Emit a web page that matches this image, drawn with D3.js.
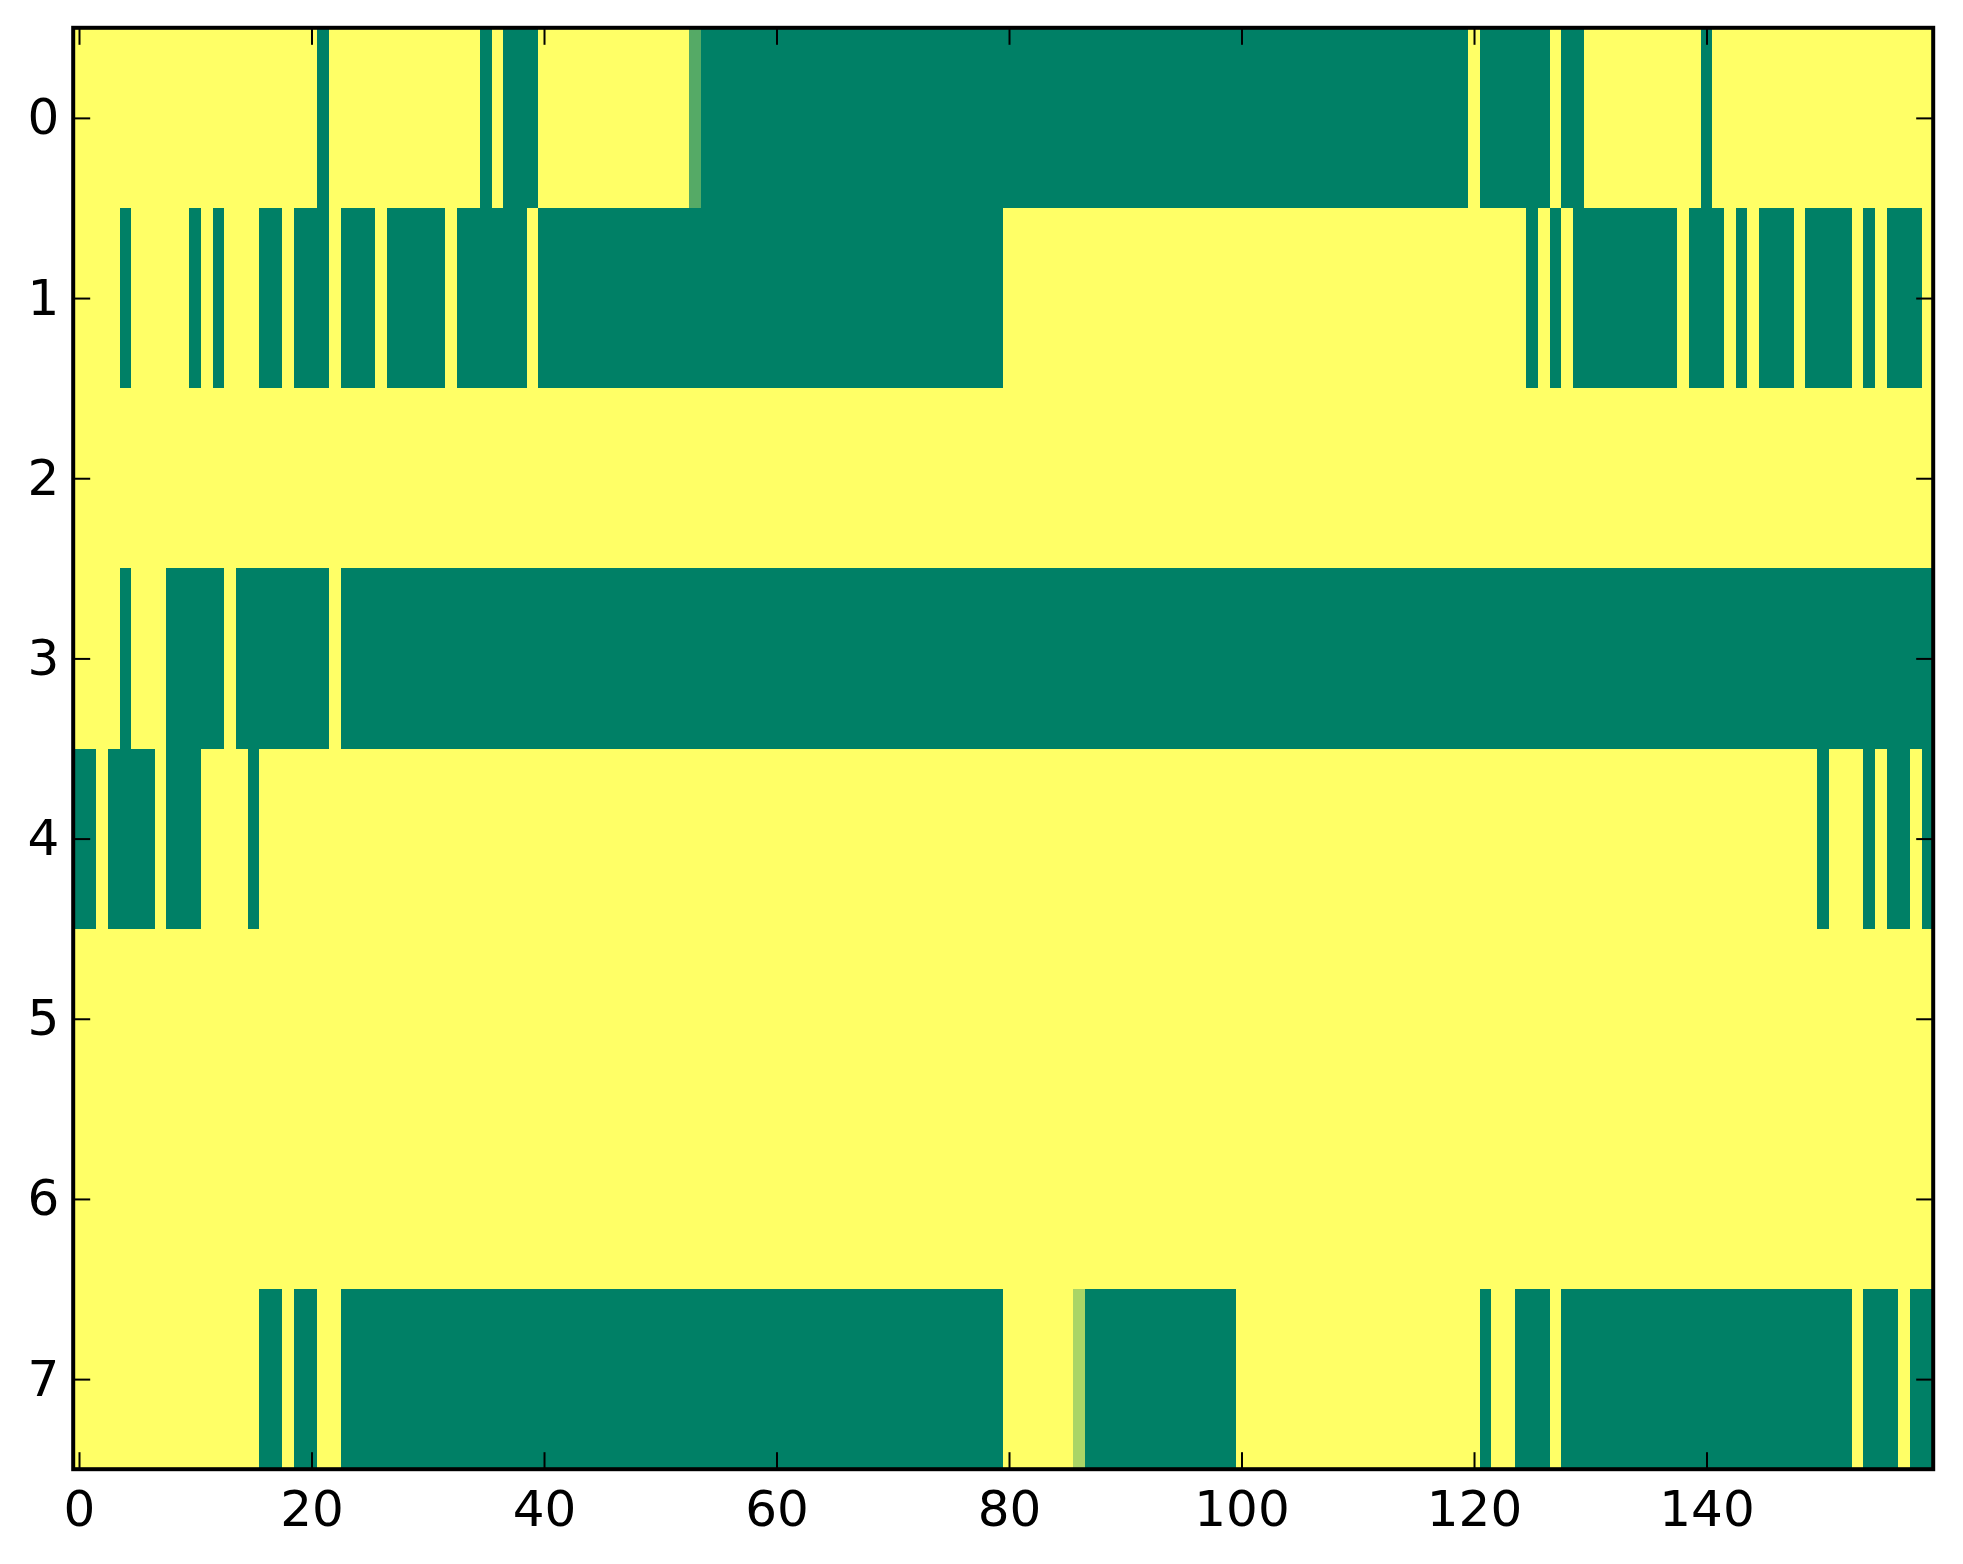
<!DOCTYPE html>
<html>
<head>
<meta charset="utf-8">
<script src="https://cdn.jsdelivr.net/npm/d3@7"></script>
<style>
  html, body { margin: 0; padding: 0; background: #ffffff; }
  svg { display: block; }
  .tick text { font-family: "DejaVu Sans", sans-serif; font-size: 50px; fill: #000; }
</style>
</head>
<body>
<svg id="chart" width="1963" height="1564"></svg>
<script>
// Cell values per row: each digit d is a cell value d/9 (0 = dark green, 9 = yellow), 160 cells per row
const row0 = "9999999999 9999999999 9099999999 9999909000 9999999999 9993000000 0000000000 0000000000 0000000000 0000000000 0000000000 0000000000 9000000900 9999999999 0999999999 9999999999";
const row1 = "9999099999 0909990090 0090009000 0090000009 0000000000 0000000000 0000000000 0000000000 9999999999 9999999999 9999999999 9999999999 9999909090 0000000090 0090900090 0009090009";
const row2 = "9999999999 9999999999 9999999999 9999999999 9999999999 9999999999 9999999999 9999999999 9999999999 9999999999 9999999999 9999999999 9999999999 9999999999 9999999999 9999999999";
const row3 = "9999099900 0009000000 0090000000 0000000000 0000000000 0000000000 0000000000 0000000000 0000000000 0000000000 0000000000 0000000000 0000000000 0000000000 0000000000 0000000000";
const row4 = "0090000900 0999909999 9999999999 9999999999 9999999999 9999999999 9999999999 9999999999 9999999999 9999999999 9999999999 9999999999 9999999999 9999999999 9999999999 0999090090";
const row5 = "9999999999 9999999999 9999999999 9999999999 9999999999 9999999999 9999999999 9999999999 9999999999 9999999999 9999999999 9999999999 9999999999 9999999999 9999999999 9999999999";
const row6 = "9999999999 9999999999 9999999999 9999999999 9999999999 9999999999 9999999999 9999999999 9999999999 9999999999 9999999999 9999999999 9999999999 9999999999 9999999999 9999999999";
const row7 = "9999999999 9999990090 0990000000 0000000000 0000000000 0000000000 0000000000 0000000000 9999996000 0000000000 9999999999 9999999999 9099000900 0000000000 0000000000 0009000900";

const rowStrings = [row0, row1, row2, row3, row4, row5, row6, row7];
const xTickValues = [0, 20, 40, 60, 80, 100, 120, 140];
const yTickValues = [0, 1, 2, 3, 4, 5, 6, 7];

(function () {
  // parse into numeric grid
  const grid = rowStrings.map(s => s.replace(/\s+/g, "").split("").map(c => +c / 9));
  const cells = [];
  grid.forEach((row, r) => row.forEach((v, c) => cells.push({ r, c, v })));

  const nCols = grid[0].length;
  const nRows = grid.length;

  const pLeft = 73.2, pRight = 1933.2, pTop = 27.8, pBottom = 1469.2;

  const x = d3.scaleLinear().domain([-0.5, nCols - 0.5]).range([pLeft, pRight]);
  const y = d3.scaleLinear().domain([-0.5, nRows - 0.5]).range([pTop, pBottom]);
  // matplotlib "summer" colormap
  const color = d3.scaleLinear().domain([0, 1]).range(["#008066", "#ffff66"]).interpolate(d3.interpolateRgb);

  const svg = d3.select("#chart");

  svg.append("g")
    .attr("shape-rendering", "crispEdges")
    .selectAll("rect")
    .data(cells)
    .join("rect")
    .attr("x", d => x(d.c - 0.5))
    .attr("y", d => y(d.r - 0.5))
    .attr("width", d => x(d.c + 0.5) - x(d.c - 0.5) + 0.6)
    .attr("height", d => y(d.r + 0.5) - y(d.r - 0.5) + 0.6)
    .attr("fill", d => color(d.v));

  const tickLen = 17;

  function styleAxis(g) {
    g.select(".domain").remove();
    g.selectAll(".tick line").attr("stroke", "#000").attr("stroke-width", 2);
  }

  svg.append("g")
    .attr("transform", `translate(0,${pBottom})`)
    .call(d3.axisBottom(x).tickValues(xTickValues).tickFormat(d3.format("d")).tickSizeInner(-tickLen).tickSizeOuter(0).tickPadding(21))
    .call(styleAxis);

  svg.append("g")
    .attr("transform", `translate(0,${pTop})`)
    .call(d3.axisTop(x).tickValues(xTickValues).tickFormat("").tickSizeInner(-tickLen).tickSizeOuter(0))
    .call(styleAxis);

  svg.append("g")
    .attr("transform", `translate(${pLeft},0)`)
    .call(d3.axisLeft(y).tickValues(yTickValues).tickFormat(d3.format("d")).tickSizeInner(-tickLen).tickSizeOuter(0).tickPadding(14))
    .call(styleAxis);

  svg.append("g")
    .attr("transform", `translate(${pRight},0)`)
    .call(d3.axisRight(y).tickValues(yTickValues).tickFormat("").tickSizeInner(-tickLen).tickSizeOuter(0))
    .call(styleAxis);

  svg.append("rect")
    .attr("x", pLeft)
    .attr("y", pTop)
    .attr("width", pRight - pLeft)
    .attr("height", pBottom - pTop)
    .attr("fill", "none")
    .attr("stroke", "#000")
    .attr("stroke-width", 4);
})();
</script>
</body>
</html>
